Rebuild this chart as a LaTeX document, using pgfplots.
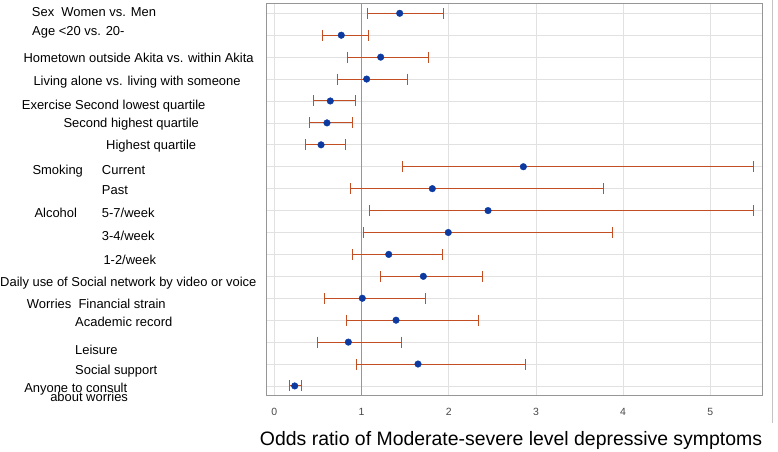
\documentclass[border=0pt]{standalone}
\usepackage{fontspec}
\setmainfont{Liberation Sans}
\usepackage{pgfplots}
\usepackage{pgfplotstable}
\pgfplotsset{compat=1.18}
\definecolor{barc}{RGB}{196,78,36}
\definecolor{dotc}{RGB}{12,58,160}
\definecolor{gridc}{RGB}{225,225,225}
\definecolor{framec}{RGB}{150,150,150}

\pgfplotstableread{
row or lo hi
18 1.438 1.071 1.943
17 0.768 0.547 1.082
16 1.220 0.837 1.766
15 1.059 0.730 1.533
14 0.642 0.444 0.929
13 0.604 0.406 0.894
12 0.536 0.360 0.814
11 2.856 1.472 5.500
10 1.812 0.876 3.773
9 2.451 1.094 5.500
8 1.995 1.021 3.876
7 1.312 0.894 1.931
6 1.709 1.220 2.393
5 1.009 0.581 1.732
4 1.396 0.826 2.344
3 0.849 0.490 1.453
2 1.648 0.940 2.878
1 0.234 0.177 0.314
}\data

\begin{document}
\begin{tikzpicture}
\path[use as bounding box] (0,0) rectangle (778bp,452bp);
\begin{axis}[
  scale only axis, width=495.7bp, height=392.7bp,
  at={(266.3bp,56.3bp)}, anchor=south west,
  xmin=-0.092, xmax=5.593, ymin=0.555, ymax=18.47,
  xtick={0,1,2,3,4,5}, ytick={1,...,18}, yticklabels={},
  xmajorgrids, ymajorgrids,
  grid style={gridc, line width=0.8bp},
  axis line style={framec, line width=0.8bp},
  major tick length=0pt,
  /pgf/number format/assume math mode=true,
  xticklabel style={anchor=center, yshift=-16bp, font=\fontsize{10.5}{12}\selectfont, text=black!72},
  clip=false,
  xlabel={Odds ratio of Moderate-severe level depressive symptoms},
  xlabel style={at={(axis description cs:0.4937,-0.1128)}, anchor=center, font=\fontsize{19.5}{22}\selectfont},
]
\draw[framec, line width=0.8bp] (axis cs:1,0.555) -- (axis cs:1,18.47);
\draw[gridc!70!gray, line width=0.8bp] (rel axis cs:1.0202,-0.0695) -- (rel axis cs:1.0202,1.0076);

\addplot[only marks, mark=none,
  error bars/.cd, x dir=both, x explicit,
  error bar style={draw=barc, line width=1bp},
  error mark=none]
  table[x=or, y=row, x error plus expr=\thisrow{hi}-\thisrow{or}, x error minus expr=\thisrow{or}-\thisrow{lo}] {\data};
\addplot[only marks, mark=|, mark size=5.5bp, mark options={draw=barc, line width=1bp}]
  table[x=lo, y=row] {\data};
\addplot[only marks, mark=|, mark size=5.5bp, mark options={draw=barc, line width=1bp}]
  table[x=hi, y=row] {\data};
\addplot[only marks, mark=*, mark size=3.3bp, mark options={fill=dotc, draw=dotc}]
  table[x=or, y=row] {\data};

\tikzset{lab/.style={anchor=west, inner sep=0pt, font=\fontsize{13}{15}\selectfont, text height=0.716em, text depth=0pt}}
\node[lab] at (axis cs:-2.782,18.03) {Sex\ \ Women vs. Men};
\node[lab] at (axis cs:-2.779,17.13) {Age <20 vs. 20-};
\node[lab] at (axis cs:-2.878,15.92) {Hometown outside Akita vs. within Akita};
\node[lab] at (axis cs:-2.764,14.88) {Living alone vs. living with someone};
\node[lab] at (axis cs:-2.897,13.77) {Exercise Second lowest quartile};
\node[lab] at (axis cs:-2.420,12.94) {Second highest quartile};
\node[lab] at (axis cs:-1.930,11.96) {Highest quartile};
\node[lab] at (axis cs:-2.775,10.79) {Smoking};
\node[lab] at (axis cs:-1.979,10.79) {Current};
\node[lab] at (axis cs:-1.979,9.91) {Past};
\node[lab] at (axis cs:-2.752,8.83) {Alcohol};
\node[lab] at (axis cs:-1.979,8.83) {5-7/week};
\node[lab] at (axis cs:-1.979,7.81) {3-4/week};
\node[lab] at (axis cs:-1.961,6.70) {1-2/week};
\node[lab] at (axis cs:-3.146,5.68) {Daily use of Social network by video or voice};
\node[lab] at (axis cs:-2.839,4.71) {Worries\ \ Financial strain};
\node[lab] at (axis cs:-2.286,3.86) {Academic record};
\node[lab] at (axis cs:-2.286,2.61) {Leisure};
\node[lab] at (axis cs:-2.286,1.68) {Social support};
\node[lab] at (axis cs:-2.870,0.86) {Anyone to consult};
\node[lab] at (axis cs:-2.572,0.46) {about worries};
\end{axis}
\end{tikzpicture}
\end{document}
